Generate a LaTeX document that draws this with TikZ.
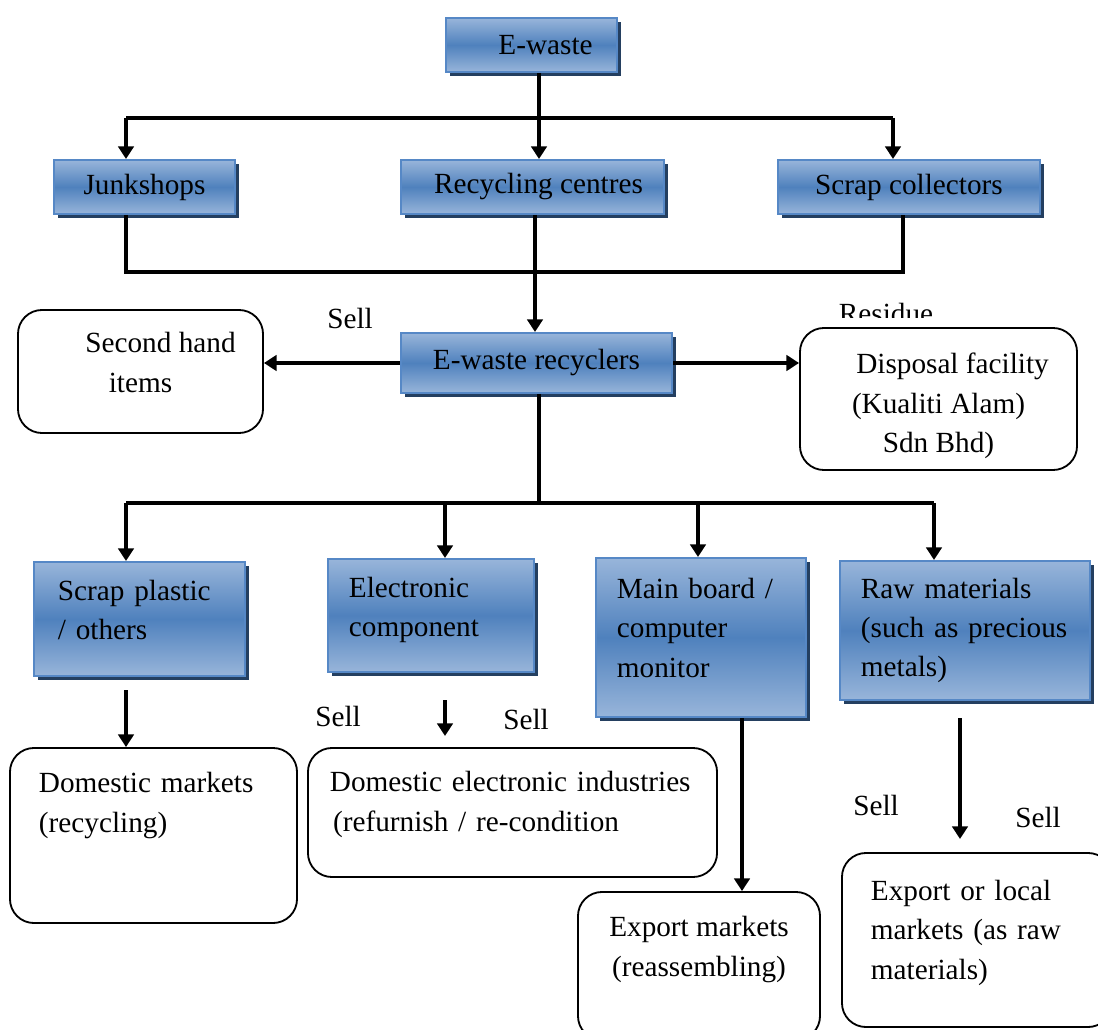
\documentclass[tikz,border=0pt]{standalone}
\usepackage{fontspec}
\setmainfont{Liberation Serif}
\usepackage{tikz}
\usetikzlibrary{arrows.meta,shadows}
\definecolor{boxlight}{RGB}{152,181,218}
\definecolor{boxmid}{RGB}{79,129,189}
\definecolor{boxedge}{RGB}{86,136,198}
\definecolor{boxshadow}{RGB}{36,63,96}
\tikzstyle{arrow} = [line width=2.6pt,-{Triangle[width=11pt,length=9pt]}]
\tikzstyle{line} = [line width=2.6pt]
\tikzstyle{bluebox} = [rectangle,draw=boxedge,line width=1.4pt,top color=boxlight,bottom color=boxlight,middle color=boxmid,drop shadow={shadow xshift=0.1cm,shadow yshift=-0.1cm,fill=boxshadow,opacity=1}]
\tikzstyle{roundbox} = [rectangle,draw=black,line width=1.3pt,rounded corners=0.6cm,fill=white]

\begin{document}
\begin{tikzpicture}[x=0.025cm,y=-0.025cm,font=\fontsize{20.8}{28}\selectfont]
			\clip (0,0) rectangle (1098,1030);
			% boxes
			\node[bluebox,minimum width=4.275cm,minimum height=1.35cm] (ewaste) at (531.5,45) {\hspace*{0.7cm}E-waste};
			\node[bluebox,minimum width=4.525cm,minimum height=1.35cm] (junk) at (144.5,187) {Junkshops};
			\node[bluebox,minimum width=6.575cm,minimum height=1.35cm] (recyc) at (532.5,187) {\hspace*{0.3cm}Recycling centres};
			\node[bluebox,minimum width=6.55cm,minimum height=1.35cm] (scrap) at (909,187) {Scrap collectors};
			\node[bluebox,minimum width=6.775cm,minimum height=1.5cm] (recyclers) at (536.5,363) {E-waste recyclers};
			\node[bluebox,minimum width=5.275cm,minimum height=2.85cm,text width=4.075cm,inner xsep=0.6cm,align=left] (plastic) at (139.5,619) {Scrap plastic\\/ others\\[-15pt]\mbox{}};
			\node[bluebox,minimum width=5.15cm,minimum height=2.825cm,text width=4.1cm,inner xsep=0.525cm,align=left] (elec) at (431,615.5) {Electronic\\component\\[-16pt]\mbox{}};
			\node[bluebox,minimum width=5.25cm,minimum height=3.975cm,text width=4.2cm,inner xsep=0.525cm,align=left] (board) at (701,637.5) {Main board /\\computer\\monitor\\[-14pt]\mbox{}};
			\node[bluebox,minimum width=6.25cm,minimum height=3.475cm,text width=5.2cm,inner xsep=0.5cm,align=left] (raw) at (965,630.5) {Raw materials\\(such as precious\\metals)};
			\node[roundbox,minimum width=6.125cm,minimum height=3.075cm,align=center] (second) at (140.5,371.5) {\hspace*{1cm}Second hand\\items\\[-15pt]\mbox{}};
			\node[roundbox,minimum width=6.925cm,minimum height=3.55cm,align=center] (disposal) at (938.5,399) {\mbox{}\\[-3.5pt]\hspace*{0.7cm}Disposal facility\\(Kualiti Alam)\\Sdn Bhd)};
			\node[roundbox,minimum width=7.175cm,minimum height=4.375cm,text width=5.725cm,inner xsep=0.725cm,align=left] (dommkt) at (153.5,835.5) {Domestic markets\\(recycling)\\[19pt]\mbox{}};
			\node[roundbox,minimum width=10.225cm,minimum height=3.225cm,text width=9.125cm,inner xsep=0.55cm,align=left] (domelec) at (512.5,812.5) {Domestic electronic industries\\\hspace*{0.08cm}(refurnish / re-condition\\[-12pt]\mbox{}};
			\node[roundbox,minimum width=6.05cm,minimum height=3.7cm,align=center] (expmkt) at (699,966) {Export markets\\(reassembling)\\\mbox{}};
			\node[roundbox,minimum width=6.75cm,minimum height=4.35cm,text width=5.3cm,inner xsep=0.725cm,align=left] (explocal) at (977,940) {Export or local\\markets (as raw\\materials)\\[-13.5pt]\mbox{}};
			% labels
			\node (sell1) at (350,318) {Sell};
			\begin{scope}
				\clip (800,290) rectangle (1000,318);
				\node[anchor=base] (residue) at (886,324) {Residue};
			\end{scope}
			\node (sell2) at (338,716) {Sell};
			\node (sell3) at (526,719) {Sell};
			\node (sell4) at (876,805) {Sell};
			\node (sell5) at (1038,817) {Sell};
			% junctions
			\coordinate (tsplit) at (539,118);
			\coordinate (tleft) at (126,118);
			\coordinate (tright) at (893,118);
			\coordinate (mleft) at (126,272);
			\coordinate (mright) at (903,272);
			\coordinate (msplit) at (535,272);
			\coordinate (bsplit) at (539,503);
			\coordinate (b1) at (126,503);
			\coordinate (b2) at (445,503);
			\coordinate (b3) at (698,503);
			\coordinate (b4) at (934,503);
			\coordinate (p1) at (126,690);
			\coordinate (e1) at (445,700);
			\coordinate (e2) at (445,736);
			\coordinate (m1) at (742,717);
			\coordinate (r1) at (960,718);
			\coordinate (r2) at (960,839);
			% connectors
			\draw[line] (tsplit |- ewaste.south) -- (tsplit);
			\draw[line] (tleft) -- (tright);
			\draw[arrow] (tleft) -- (tleft |- junk.north);
			\draw[arrow] (tsplit) -- (tsplit |- recyc.north);
			\draw[arrow] (tright) -- (tright |- scrap.north);
			\draw[line] (mleft |- junk.south) -- (mleft) -- (mright) -- (mright |- scrap.south);
			\draw[arrow] (msplit |- recyc.south) -- (msplit |- recyclers.north);
			\draw[arrow] (recyclers.west) -- (recyclers.west -| second.east);
			\draw[arrow] (recyclers.east) -- (recyclers.east -| disposal.west);
			\draw[line] (bsplit |- recyclers.south) -- (bsplit);
			\draw[line] (b1) -- (b4);
			\draw[arrow] (b1) -- (b1 |- plastic.north);
			\draw[arrow] (b2) -- (b2 |- elec.north);
			\draw[arrow] (b3) -- (b3 |- board.north);
			\draw[arrow] (b4) -- (b4 |- raw.north);
			\draw[arrow] (p1) -- (p1 |- dommkt.north);
			\draw[arrow] (e1) -- (e2);
			\draw[arrow] (m1 |- board.south) -- (m1 |- expmkt.north);
			\draw[arrow] (r1) -- (r2);
		\end{tikzpicture}
\end{document}
